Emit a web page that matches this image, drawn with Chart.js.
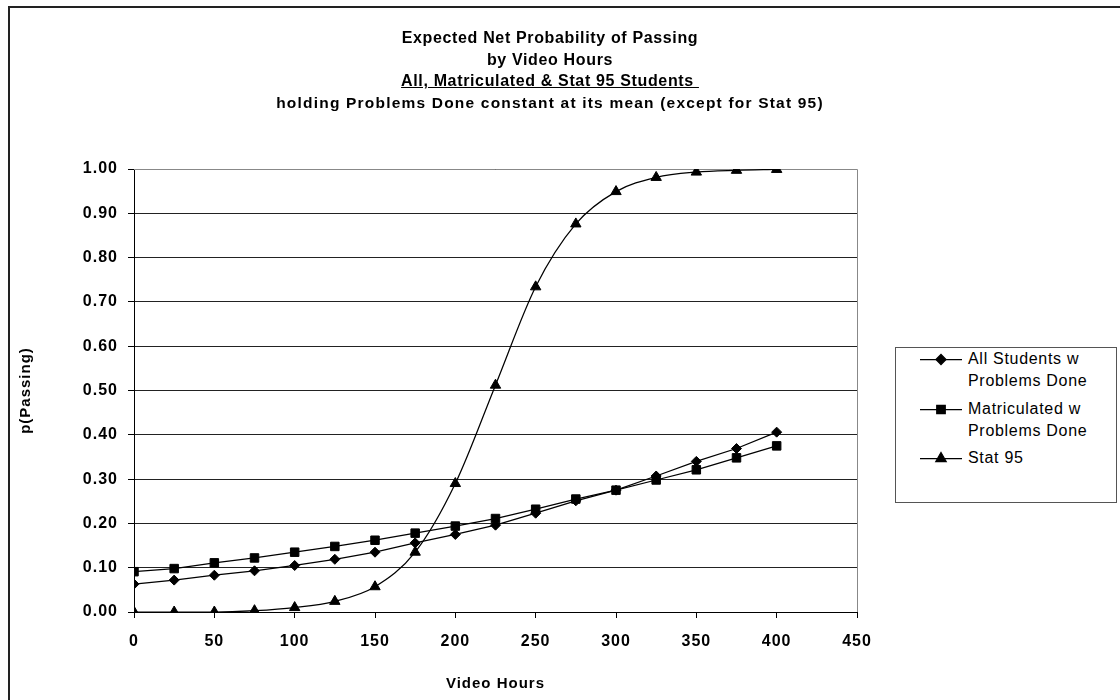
<!DOCTYPE html>
<html>
<head>
<meta charset="utf-8">
<script src="https://cdn.jsdelivr.net/npm/chart.js@4.4.1/dist/chart.umd.min.js"></script>
<style>
  html, body { margin: 0; padding: 0; background: #fff; }
  #wrap { position: relative; width: 1120px; height: 700px; overflow: hidden;
          font-family: 'Liberation Sans', Arial, sans-serif; color: #000; }
  #frame { position: absolute; left: 8px; top: 6px; width: 1300px; height: 900px;
           border-left: 2px solid #222; border-top: 2px solid #222; }
  #chart { position: absolute; left: 0; top: 0; }
  #title { position: absolute; left: 250px; width: 600px; top: 27px; text-align: center;
           font-weight: bold; font-size: 16px; line-height: 21.5px; letter-spacing: 0.65px; }
  #title .sub { font-size: 15.5px; letter-spacing: 1.2px; }
  #legend { position: absolute; left: 895px; top: 347px; width: 222px; height: 156px;
            box-sizing: border-box; border: 1px solid #555; background: #fff; }
  .entry { position: absolute; left: 72px; font-size: 16px; line-height: 22px;
           letter-spacing: 0.7px; white-space: nowrap; }
  .key { position: absolute; left: 23px; }
</style>
</head>
<body>
<div id="wrap">
  <div id="frame"></div>
  <canvas id="chart" width="1120" height="700"></canvas>
  <div id="title">
    <div>Expected Net Probability of Passing</div>
    <div>by Video Hours</div>
    <div><u>All, Matriculated &amp; Stat 95 Students&nbsp;</u></div>
    <div class="sub">holding Problems Done constant at its mean (except for Stat 95)</div>
  </div>
  <div id="legend"></div>
</div>
<script>
// ── DATA ────────────────────────────────────────────────────────────────────
const hours        = [0, 25, 50, 75, 100, 125, 150, 175, 200, 225, 250, 275, 300, 325, 350, 375, 400];
const allStudents  = [0.063, 0.072, 0.083, 0.093, 0.105, 0.119, 0.135, 0.156, 0.175, 0.196, 0.223, 0.251, 0.275, 0.307, 0.340, 0.369, 0.406];
const matriculated = [0.091, 0.098, 0.111, 0.122, 0.135, 0.148, 0.162, 0.178, 0.194, 0.211, 0.232, 0.255, 0.275, 0.298, 0.321, 0.348, 0.375];
const stat95       = [0.000, 0.000, 0.000, 0.003, 0.010, 0.024, 0.057, 0.135, 0.290, 0.512, 0.734, 0.876, 0.949, 0.981, 0.993, 0.997, 0.999];

const seriesNames  = [['All Students w', 'Problems Done'], ['Matriculated w', 'Problems Done'], ['Stat 95']];
const seriesStyles = ['rectRot', 'rect', 'triangle'];
const seriesRadius = [5, 6, 6];

// ── HELPERS ─────────────────────────────────────────────────────────────────
const FONT = "'Liberation Sans', Arial, sans-serif";

function toPoints(values) {
  return hours.map((h, i) => ({ x: h, y: values[i] }));
}

function buildDataset(idx, values, smooth) {
  return {
    label: seriesNames[idx].join(' '),
    data: toPoints(values),
    borderColor: '#000',
    backgroundColor: '#000',
    borderWidth: 1.25,
    pointStyle: seriesStyles[idx],
    pointRadius: seriesRadius[idx],
    pointBackgroundColor: '#000',
    pointBorderColor: '#000',
    pointBorderWidth: 1,
    tension: smooth ? 0.4 : 0,
    cubicInterpolationMode: smooth ? 'monotone' : 'default',
    fill: false,
  };
}

// widen canvas text a little (old Excel rendering is wide)
const textSpacing = {
  id: 'textSpacing',
  beforeDraw(chart) { chart.ctx.letterSpacing = '1px'; },
};

// gray top/right edge of the plot area
const plotEdge = {
  id: 'plotEdge',
  beforeDatasetsDraw(chart) {
    const { ctx, chartArea: a } = chart;
    ctx.save();
    ctx.strokeStyle = '#888';
    ctx.lineWidth = 1;
    ctx.beginPath();
    ctx.moveTo(a.left, Math.round(a.top) + 0.5);
    ctx.lineTo(Math.round(a.right) + 0.5, Math.round(a.top) + 0.5);
    ctx.lineTo(Math.round(a.right) + 0.5, a.bottom);
    ctx.stroke();
    ctx.restore();
  },
};

// ── CHART ───────────────────────────────────────────────────────────────────
new Chart(document.getElementById('chart'), {
  type: 'line',
  data: {
    datasets: [
      buildDataset(0, allStudents, false),
      buildDataset(1, matriculated, false),
      buildDataset(2, stat95, true),
    ],
  },
  options: {
    responsive: false,
    animation: false,
    layout: { padding: { left: 8, top: 169, right: 263, bottom: 0 } },
    plugins: {
      legend: { display: false },
      title: { display: false },
      tooltip: { enabled: false },
    },
    scales: {
      x: {
        type: 'linear',
        min: 0,
        max: 450,
        afterFit: (s) => { s.height = 88; },
        ticks: {
          stepSize: 50,
          color: '#000',
          padding: 14,
          maxRotation: 0,
          autoSkip: false,
          font: { family: FONT, size: 16, weight: 'bold' },
        },
        grid: { drawOnChartArea: false, drawTicks: true, tickLength: 6, tickColor: '#000' },
        border: { color: '#000', width: 1 },
        title: {
          display: true,
          text: 'Video Hours',
          color: '#000',
          font: { family: FONT, size: 15, weight: 'bold' },
          padding: { top: 0, bottom: 7 },
        },
      },
      y: {
        min: 0,
        max: 1,
        afterFit: (s) => { s.width = 126; },
        ticks: {
          stepSize: 0.1,
          color: '#000',
          padding: 10,
          callback: (v) => v.toFixed(2),
          font: { family: FONT, size: 16, weight: 'bold' },
        },
        grid: { color: '#222', lineWidth: 1, tickLength: 6, tickColor: '#000' },
        border: { color: '#000', width: 1 },
        title: {
          display: true,
          text: 'p(Passing)',
          color: '#000',
          font: { family: FONT, size: 15, weight: 'bold' },
          padding: { top: 9, bottom: 0 },
        },
      },
    },
  },
  plugins: [textSpacing, plotEdge],
});

// ── LEGEND (html) ───────────────────────────────────────────────────────────
const legendTops = [0, 50, 99];
const legend = document.getElementById('legend');
seriesNames.forEach((lines, i) => {
  const entry = document.createElement('div');
  entry.className = 'entry';
  entry.style.top = legendTops[i] + 'px';
  entry.innerHTML = lines.join('<br>');
  legend.appendChild(entry);

  const key = document.createElement('canvas');
  key.className = 'key';
  key.width = 44; key.height = 22;
  key.style.top = legendTops[i] + 'px';
  const kctx = key.getContext('2d');
  kctx.strokeStyle = '#000';
  kctx.fillStyle = '#000';
  kctx.lineWidth = 1.25;
  kctx.beginPath();
  kctx.moveTo(1, 11.5);
  kctx.lineTo(43, 11.5);
  kctx.stroke();
  Chart.helpers.drawPoint(kctx, { pointStyle: seriesStyles[i], radius: seriesRadius[i], rotation: 0, borderWidth: 1 }, 22, 11.5);
  legend.appendChild(key);
});
</script>
</body>
</html>
